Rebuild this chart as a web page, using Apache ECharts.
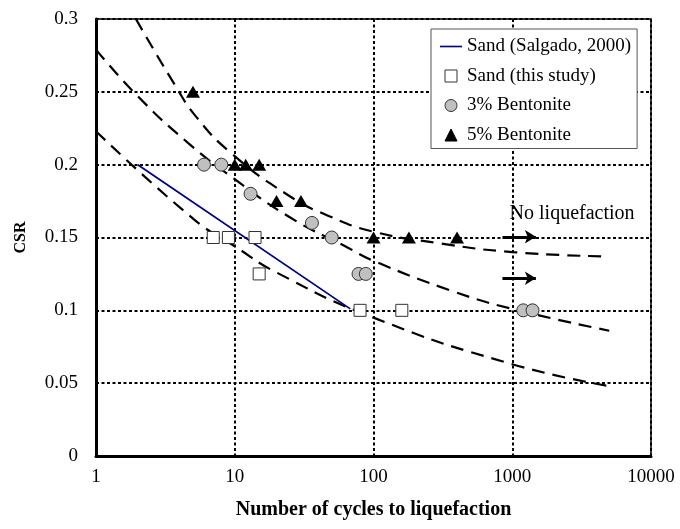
<!DOCTYPE html>
<html>
<head>
<meta charset="utf-8">
<script src="https://cdn.jsdelivr.net/npm/echarts@6/dist/echarts.min.js"></script>
<style>
  html, body { margin: 0; padding: 0; background: #fff; }
  #chart { width: 680px; height: 529px; }
</style>
</head>
<body>
<div id="chart"></div>
<script>
// Tick labels
const xTickLabels = ['1', '10', '100', '1000', '10000'];
const yTickLabels = ['0', '0.05', '0.1', '0.15', '0.2', '0.25', '0.3'];

// Sand (Salgado, 2000) reference line
const salgadoN = [2, 68];
const salgadoCSR = [0.2, 0.101];

// Test results
const sandN = [7, 9, 14, 15, 80, 160];
const sandCSR = [0.15, 0.15, 0.15, 0.125, 0.1, 0.1];

const bent3N = [6, 8, 13, 36, 50, 78, 88, 1200, 1400];
const bent3CSR = [0.2, 0.2, 0.18, 0.16, 0.15, 0.125, 0.125, 0.1, 0.1];

const bent5N = [5, 10, 12, 15, 20, 30, 100, 180, 400];
const bent5CSR = [0.25, 0.2, 0.2, 0.2, 0.175, 0.175, 0.15, 0.15, 0.15];

// Dashed trend curves (sand, 3% and 5% bentonite)
const trendSandN = [1, 5, 10, 20, 100, 1000, 5000];
const trendSandCSR = [0.223, 0.163, 0.144, 0.126, 0.095, 0.063, 0.048];

const trend3N = [1, 2, 4.6, 10, 25.8, 62.5, 100, 376, 1000, 5000];
const trend3CSR = [0.279, 0.247, 0.215, 0.19, 0.163, 0.144, 0.134, 0.113, 0.101, 0.086];

const trend5N = [1.94, 3.77, 5.26, 9.4, 24.3, 47, 100, 301, 1000, 4700];
const trend5CSR = [0.3, 0.2535, 0.233, 0.208, 0.179, 0.165, 0.154, 0.146, 0.14, 0.137];

// "No liquefaction" arrows and note
const arrowN = [850, 1480];
const arrowCSR = [0.1505, 0.122];
const noteN = [2700];
const noteCSR = [0.1666];

const FONT = 'Liberation Serif, Times New Roman, serif';

const pairs = (xs, ys) => xs.map((x, i) => [x, ys[i]]);

const dotted = { color: '#000', width: 2, type: [3, 2.5] };
const dashed = { color: '#000', width: 2.2, type: [13, 8] };

function trend(name, xs, ys) {
  return {
    name: name,
    type: 'line',
    data: pairs(xs, ys),
    symbol: 'none',
    smooth: 0.5,
    lineStyle: dashed,
    silent: true,
    z: 2
  };
}

const chart = echarts.init(document.getElementById('chart'), null, { renderer: 'canvas' });

chart.setOption({
  animation: false,
  backgroundColor: '#fff',
  textStyle: { fontFamily: FONT, color: '#000' },
  grid: {
    left: 96, right: 29, top: 19, bottom: 73,
    show: true, borderColor: '#000', borderWidth: 1.5,
    outerBoundsMode: 'none'
  },
  legend: {
    orient: 'vertical',
    left: 431, top: 29,
    padding: [8, 6, 4, 9],
    itemGap: 10.5,
    itemWidth: 22,
    itemHeight: 12,
    backgroundColor: '#fff',
    borderColor: '#555',
    borderWidth: 1,
    borderRadius: 0,
    itemStyle: { borderWidth: 1 },
    textStyle: { fontSize: 19, fontFamily: FONT, color: '#000' },
    data: [
      { name: 'Sand (Salgado, 2000)', icon: 'path://M0,0H40V3H0Z', itemStyle: { borderWidth: 0 } },
      { name: 'Sand (this study)', icon: 'path://M0,0H10V10H0Z' },
      { name: '3% Bentonite', icon: 'circle' },
      { name: '5% Bentonite', icon: 'path://M5,0L10,10L0,10Z' }
    ]
  },
  xAxis: {
    type: 'log',
    logBase: 10,
    min: 1,
    max: 10000,
    name: 'Number of cycles to liquefaction',
    nameLocation: 'middle',
    nameGap: 44,
    nameTextStyle: { fontSize: 20, fontWeight: 'bold', fontFamily: FONT, color: '#000' },
    axisLine: { show: true, onZero: false, lineStyle: { color: '#000', width: 3 } },
    axisTick: { show: false },
    axisLabel: {
      margin: 12, fontSize: 19, fontFamily: FONT, color: '#000',
      formatter: (v, i) => xTickLabels[i]
    },
    splitLine: { show: true, lineStyle: dotted },
    minorTick: { show: false },
    minorSplitLine: { show: false }
  },
  yAxis: {
    type: 'value',
    min: 0,
    max: 0.3,
    interval: 0.05,
    name: 'CSR',
    nameLocation: 'middle',
    nameGap: 67,
    nameRotate: 90,
    nameTextStyle: { fontSize: 16, fontWeight: 'bold', fontFamily: FONT, color: '#000' },
    axisLine: { show: true, lineStyle: { color: '#000', width: 3 } },
    axisTick: { show: false },
    axisLabel: {
      margin: 18, fontSize: 19, fontFamily: FONT, color: '#000',
      formatter: (v, i) => yTickLabels[i]
    },
    splitLine: { show: true, lineStyle: dotted }
  },
  series: [
    trend('trendSand', trendSandN, trendSandCSR),
    trend('trend3', trend3N, trend3CSR),
    trend('trend5', trend5N, trend5CSR),
    {
      name: 'Sand (Salgado, 2000)',
      type: 'line',
      data: pairs(salgadoN, salgadoCSR),
      symbol: 'none',
      lineStyle: { color: '#000080', width: 1.8 },
      itemStyle: { color: '#000080' },
      z: 3
    },
    {
      name: 'noLiquefaction',
      type: 'line',
      data: [],
      silent: true,
      z: 4,
      markLine: {
        silent: true,
        symbol: ['none', 'arrow'],
        symbolSize: [10, 11],
        label: { show: false },
        lineStyle: { color: '#000', width: 3, type: 'solid' },
        emphasis: { disabled: true },
        data: arrowCSR.map(c => [
          { coord: [arrowN[0], c] },
          { coord: [arrowN[1], c] }
        ])
      },
      markPoint: {
        silent: true,
        symbol: 'circle',
        symbolSize: 1,
        itemStyle: { color: 'rgba(0,0,0,0)' },
        label: {
          show: true,
          position: 'inside',
          formatter: 'No liquefaction',
          fontSize: 20,
          fontFamily: FONT,
          color: '#000'
        },
        data: noteN.map((n, i) => ({ coord: [n, noteCSR[i]] }))
      }
    },
    {
      name: 'Sand (this study)',
      type: 'scatter',
      data: pairs(sandN, sandCSR),
      symbol: 'rect',
      symbolSize: 12,
      itemStyle: { color: '#fff', borderColor: '#333', borderWidth: 1, opacity: 1 },
      z: 5
    },
    {
      name: '3% Bentonite',
      type: 'scatter',
      data: pairs(bent3N, bent3CSR),
      symbol: 'circle',
      symbolSize: 13,
      itemStyle: { color: '#c0c0c0', borderColor: '#333', borderWidth: 1, opacity: 1 },
      z: 5
    },
    {
      name: '5% Bentonite',
      type: 'scatter',
      data: pairs(bent5N, bent5CSR),
      symbol: 'triangle',
      symbolSize: [14, 12],
      itemStyle: { color: '#000', borderColor: '#000', borderWidth: 0, opacity: 1 },
      z: 5
    }
  ]
});
</script>
</body>
</html>
